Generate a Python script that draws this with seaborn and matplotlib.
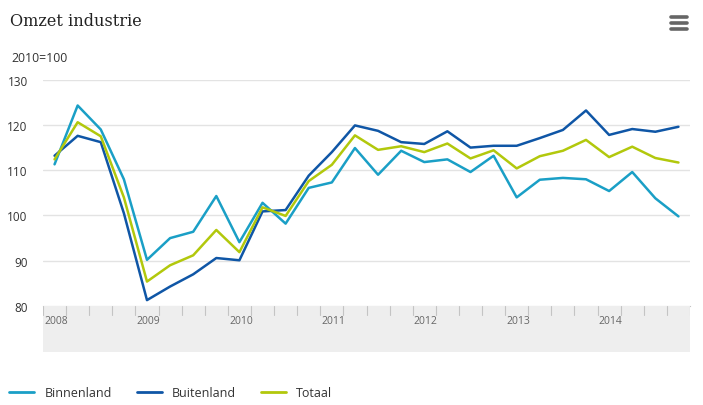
import numpy as np
import pandas as pd
import matplotlib
matplotlib.use('Agg')
import matplotlib.pyplot as plt
import seaborn as sns
from matplotlib.lines import Line2D

# Kwartaalcijfers 2008 K1 t/m 2014 K4 (2010=100)
JAREN = [2008, 2009, 2010, 2011, 2012, 2013, 2014]
KWARTALEN = [f'{j}K{k}' for j in JAREN for k in range(1, 5)]

binnenland = [111.3, 124.3, 119.0, 108.0, 90.2, 95.0, 96.4, 104.3,
              94.1, 102.8, 98.2, 106.1, 107.3, 114.9, 109.0, 114.3,
              111.8, 112.4, 109.6, 113.2, 104.0, 107.9, 108.3, 108.0,
              105.4, 109.6, 103.8, 99.8]
buitenland = [113.2, 117.6, 116.2, 100.5, 81.3, 84.3, 87.0, 90.6,
              90.1, 100.9, 101.2, 108.8, 114.0, 119.9, 118.7, 116.2,
              115.8, 118.6, 115.0, 115.4, 115.4, 117.1, 118.9, 123.2,
              117.8, 119.1, 118.5, 119.6]
totaal = [112.4, 120.6, 117.5, 104.0, 85.4, 89.0, 91.2, 96.8,
          91.9, 101.8, 99.9, 107.6, 111.2, 117.7, 114.5, 115.3,
          114.0, 115.9, 112.6, 114.4, 110.4, 113.1, 114.3, 116.7,
          112.9, 115.2, 112.7, 111.7]

REEKSEN = ['Binnenland', 'Buitenland', 'Totaal']
KLEUREN = {'Binnenland': '#1a9fc6', 'Buitenland': '#0f56a6', 'Totaal': '#b2c80c'}

df = pd.DataFrame({
    'pos': list(range(len(KWARTALEN))) * 3,
    'waarde': binnenland + buitenland + totaal,
    'reeks': np.repeat(REEKSEN, len(KWARTALEN)),
})

sns.set_style('white')
plt.rcParams['font.family'] = ['Open Sans', 'DejaVu Sans']

W, H = 703, 406
fig = plt.figure(figsize=(W / 100, H / 100), dpi=100)
ax = fig.add_axes([43 / W, 1 - 307 / H, (690 - 43) / W, (307 - 80.7) / H])

sns.lineplot(data=df, x='pos', y='waarde', hue='reeks', palette=KLEUREN,
             linewidth=1.8, legend=False, ax=ax, zorder=3)

ax.set_xlim(-0.5, len(KWARTALEN) - 0.5)
ax.set_ylim(80, 130)
ax.set_yticks([80, 90, 100, 110, 120, 130])
ax.set_xticks([])
ax.set_xlabel('')
ax.set_ylabel('')
for y in [90, 100, 110, 120, 130]:
    ax.axhline(y, color='#e3e3e3', linewidth=1, zorder=1)
for s in ['top', 'right', 'left']:
    ax.spines[s].set_visible(False)
ax.spines['bottom'].set_color('#c4c4c4')
ax.tick_params(axis='y', length=0, pad=11, labelsize=8.5, labelcolor='#333333')
for lab in ax.get_yticklabels():
    lab.set_horizontalalignment('right')

# grijze band onder de as met kwartaalstreepjes en jaartallen
band = fig.add_axes([43 / W, 1 - 353 / H, (690 - 43) / W, (353 - 307) / H])
band.set_facecolor('#eeeeee')
band.set_xlim(ax.get_xlim())
band.set_ylim(0, 1)
band.set_xticks([])
band.set_yticks([])
for s in band.spines.values():
    s.set_visible(False)
for i in range(len(KWARTALEN) + 1):
    band.plot([i - 0.5, i - 0.5], [1, 1 - 9 / 46], color='#c4c4c4', linewidth=0.8)
for i, jaar in enumerate(JAREN):
    band.text(i * 4 - 0.5 + 0.05, 1 - 15 / 46, str(jaar), fontsize=7.5,
              color='#666666', ha='left', va='center')

# titel en eenheid
fig.text(10 / W, 1 - 22 / H, 'Omzet industrie', fontsize=11.6,
         family='DejaVu Serif', color='#222222', va='center', ha='left')
fig.text(11 / W, 1 - 59 / H, '2010=100', fontsize=8.8, color='#333333',
         va='center', ha='left')

# menu-icoon
for yy in [18, 24, 30]:
    fig.add_artist(Line2D([671 / W, 687 / W], [1 - yy / H, 1 - yy / H],
                          color='#666666', linewidth=2.6, solid_capstyle='round'))

# legenda
handles = [Line2D([0], [0], color=KLEUREN[r], linewidth=2) for r in REEKSEN]
leg = fig.legend(handles, REEKSEN, loc='center left', bbox_to_anchor=(-2 / W, 1 - 394 / H),
                 ncol=3, frameon=False, fontsize=9, handlelength=2.0,
                 columnspacing=2.0, handletextpad=0.8)
for t in leg.get_texts():
    t.set_color('#333333')

fig.savefig('out.png', dpi=100)
